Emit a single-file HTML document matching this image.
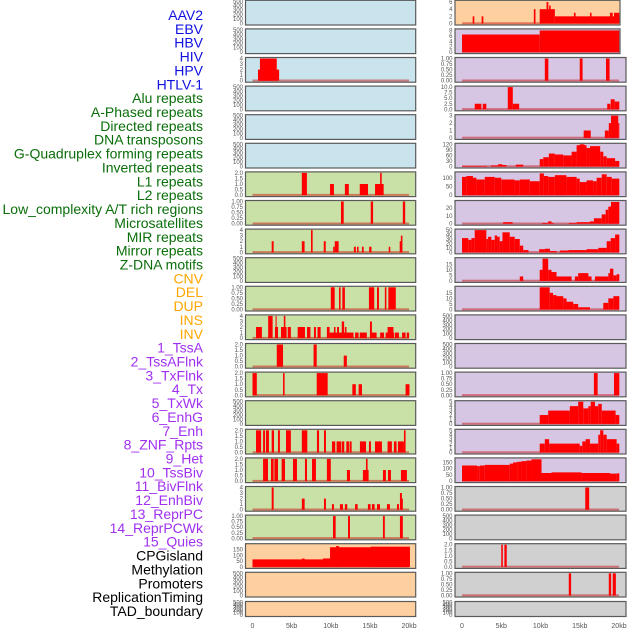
<!DOCTYPE html>
<html><head><meta charset="utf-8"><style>
body{margin:0;background:#fff;width:630px;height:630px;overflow:hidden}
svg{display:block;font-family:"Liberation Sans",sans-serif}
</style></head><body>
<svg id="chart" width="630" height="630" viewBox="0 0 630 630"></svg>
<script>
const trackLabels=["AAV2","EBV","HBV","HIV","HPV","HTLV-1","Alu repeats","A-Phased repeats","Directed repeats","DNA transposons","G-Quadruplex forming repeats","Inverted repeats","L1 repeats","L2 repeats","Low_complexity A/T rich regions","Microsatellites","MIR repeats","Mirror repeats","Z-DNA motifs","CNV","DEL","DUP","INS","INV","1_TssA","2_TssAFlnk","3_TxFlnk","4_Tx","5_TxWk","6_EnhG","7_Enh","8_ZNF_Rpts","9_Het","10_TssBiv","11_BivFlnk","12_EnhBiv","13_ReprPC","14_ReprPCWk","15_Quies","CPGisland","Methylation","Promoters","ReplicationTiming","TAD_boundary"];
const labelGroups=[6,13,5,15,5];
const groupColors=["#1010e0","#0a6e0a","#ffa500","#a030f0","#000000"];
const xTicks=[0,5,10,15,20];
const xTickLabels=["0","5kb","10kb","15kb","20kb"];
const T500=["0","100","200","300","400","500"],V500=[0,100,200,300,400,500];
const T1=["0.00","0.25","0.50","0.75","1.00"],V1=[0,0.25,0.5,0.75,1];
const T2=["0.0","0.5","1.0","1.5","2.0"],V2=[0,0.5,1,1.5,2];
const T4=["0","1","2","3","4"],V4=[0,1,2,3,4];
const leftBars=[
[],[],
[[0.7,3.4,2],[0.95,3.1,4]],
[],[],[],
[[6.3,6.95,2],[9.9,10.4,1],[11.8,12.3,1],[13.7,14.75,1],[15.65,16.75,1],[16.3,16.5,2]],
[[11.3,11.65,1],[15.1,15.4,1],[19.2,19.5,1]],
[[2.45,2.7,2],[6.3,6.65,2],[7.47,7.68,4],[9.1,9.35,2],[10.3,10.5,1],[10.5,11.0,2],[12.95,13.2,1],[13.35,13.55,1],[13.98,14.2,1],[14.9,15.2,1],[17.4,17.6,1],[18.8,19.05,2],[18.95,19.15,3]],
[],
[[10.0,10.5,1],[11.05,11.25,1],[11.47,11.8,1],[14.87,15.55,1],[15.9,16.15,1],[16.9,17.1,1],[17.35,18.3,1]],
[[0.45,1.2,2],[2.0,2.57,4],[2.87,3.26,2],[2.95,3.08,4],[3.64,4.36,2],[4.0,4.2,4],[4.5,4.9,2],[5.77,6.7,2],[6.96,7.4,2],[7.85,8.1,2],[8.3,8.7,2],[9.5,9.85,2],[9.85,12.9,1],[10.4,10.6,2],[10.8,11.05,2],[11.4,11.7,3],[11.8,12.0,2],[13.1,13.55,1],[13.7,14.6,1],[15.0,15.85,1],[15.0,15.25,3],[16.3,16.8,1],[17.0,18.1,1],[17.25,18.0,2],[18.2,18.7,1],[19.1,19.55,1],[19.7,20.0,1]],
[[3.1,3.9,2],[7.8,8.2,2],[11.65,12.05,1]],
[[0,0.55,2],[3.9,4.1,2],[8.2,9.6,2],[12.75,13.2,1],[13.55,13.98,1],[19.55,20.05,1]],
[],
[[0.45,1.1,2],[1.35,1.6,2],[1.72,2.1,2],[2.45,2.75,2],[3.25,3.5,2],[4.28,4.9,2],[6.3,7.0,2],[8.23,8.5,2],[9.13,9.38,2],[19.34,19.55,2],[10.15,10.57,1],[10.74,11.3,1],[11.38,11.72,1],[11.98,12.32,1],[12.4,12.66,1],[13.72,14.5,1],[14.87,15.13,1],[15.64,16.53,1],[17.25,17.8,1],[18.06,18.4,1],[18.57,19.34,1]],
[[1.35,1.98,2],[2.36,2.7,2],[2.79,3.26,2],[3.72,4.15,2],[5.17,5.68,2],[6.7,6.96,2],[7.6,8.1,2],[9.5,10.0,2],[14.49,14.7,2],[12.06,12.45,1],[14.1,14.83,1],[16.66,17.04,1],[17.3,17.68,1],[18.96,19.72,1]],
[[2.45,2.7,4],[6.3,6.66,2],[9.13,9.38,2],[10.15,10.4,1],[11.17,11.55,1],[11.8,12.1,1],[13.1,13.43,1],[14.74,15.08,1],[15.25,15.6,1],[15.9,16.28,1],[17.17,17.55,1],[18.45,18.7,1],[18.83,19.08,3],[18.96,19.2,2]],
[[10.28,10.62,1],[12.2,12.45,1],[16.66,16.9,1],[18.83,19.2,1]],
[[0,9.9,65],[6.3,6.66,72],[9.0,9.9,73],[9.9,20.1,170],[10.66,11.04,180],[15.1,20.1,175]],
[],[]
];
const rightBars=[
[[1.36,1.57,2],[2.5,2.72,2],[9.15,9.36,4],[9.9,11.83,4],[10.77,11.0,6],[11.1,11.3,5],[11.83,20.04,2],[14.25,14.47,3],[16.3,16.5,3],[18.85,19.2,3],[19.36,20.04,3]],
[[0,9.9,6.5],[9.9,20.04,8]],
[[10.55,11.0,1],[15.0,15.36,1],[18.34,18.8,1]],
[[1.62,2.47,2.5],[2.64,3.1,2.5],[5.83,6.47,10],[6.47,7.28,2.5],[18.5,18.9,2.5],[18.94,19.45,4.5],[19.45,20.04,3.5]],
[[15.5,16.4,1],[18.2,18.7,1],[18.7,18.98,2],[18.98,19.9,3],[19.9,20.04,2]],
[[0,3.15,3],[3.7,4.6,6],[4.6,5.15,12],[5.15,5.66,8],[6.85,7.8,10],[9.9,10.35,40],[10.35,11.06,50],[11.06,11.83,70],[11.83,12.9,65],[12.9,13.96,60],[13.96,14.6,80],[14.6,15.87,115],[15.0,15.6,120],[15.87,16.3,100],[16.3,17.6,110],[17.6,18.0,80],[18.0,18.43,55],[18.43,19.5,45],[19.5,20.04,30]],
[[0,0.55,105],[0.55,1.4,110],[1.4,1.83,100],[1.83,2.9,90],[2.9,4.17,105],[4.17,5.0,100],[5.0,6.7,90],[6.7,7.36,85],[7.36,8.64,90],[8.64,9.9,80],[9.9,10.43,125],[10.43,10.98,110],[10.98,11.83,105],[11.83,13.3,115],[13.3,14.6,105],[14.6,15.0,95],[15.0,15.87,75],[15.87,16.7,85],[16.7,17.15,80],[17.15,17.8,100],[17.8,18.43,120],[18.43,19.07,105],[19.07,20.04,95]],
[[5.23,6.45,2],[10.2,10.98,1],[10.98,11.4,3],[11.4,11.7,1],[13.6,14.6,1],[14.6,16.3,2],[16.3,16.8,3],[16.8,17.8,7],[17.8,18.3,12],[18.3,18.64,18],[18.64,18.98,22],[18.98,20.04,28]],
[[0,0.8,32],[0.8,1.2,28],[1.2,1.62,32],[1.62,3.1,50],[3.1,3.32,30],[3.32,3.74,35],[3.74,4.17,28],[4.17,4.47,38],[4.47,4.8,35],[4.8,5.15,25],[5.15,6.08,45],[6.08,6.72,35],[6.72,7.36,30],[7.36,7.8,15],[7.8,8.47,5],[9.83,10.55,7],[10.55,11.2,8],[11.2,12.04,3],[12.47,13.53,4],[13.53,15.87,5],[15.87,17.36,7],[17.36,18.43,10],[18.43,18.94,25],[18.94,19.5,32],[19.5,20.04,40]],
[[7.36,7.8,4],[9.9,10.26,10],[10.26,10.98,20],[10.98,11.4,10],[11.4,12.04,8],[12.04,13.96,4],[14.38,14.8,4],[14.8,16.1,7],[16.1,16.5,4],[16.94,18.64,4],[18.64,18.85,7],[18.85,19.28,11],[19.28,19.7,5],[19.7,20.04,6]],
[[9.9,11.17,20],[11.17,11.6,15],[11.6,12.04,13],[12.04,12.9,12],[12.9,13.32,10],[13.32,14.17,7],[14.17,14.8,5],[14.8,16.3,2],[18.0,18.64,6],[18.64,19.28,10],[19.28,20.04,12]],
[],[],
[[16.8,17.28,1],[19.36,20.04,1]],
[[9.9,10.98,2],[10.98,13.74,3],[13.74,14.8,4],[14.8,15.45,5],[15.45,16.1,3.5],[16.1,16.4,4],[16.4,16.94,5],[16.94,17.36,4],[17.36,17.8,4.5],[17.8,19.57,3],[19.57,20.04,2]],
[[9.9,10.55,2],[10.55,11.1,3],[11.1,15.0,2],[15.0,15.32,1.5],[15.32,15.74,2.5],[15.74,16.3,3],[16.3,17.36,2],[17.36,17.6,4],[17.6,18.0,5],[18.0,18.43,4],[18.43,19.7,3],[19.7,20.04,2]],
[[0,1.92,125],[1.92,2.26,120],[2.26,2.9,125],[2.9,6.08,130],[6.08,6.5,140],[6.5,7.02,150],[7.02,7.57,155],[7.57,8.2,160],[8.2,8.85,165],[8.85,10.13,175],[10.13,11.4,65],[11.4,15.23,70],[15.23,18.85,65],[18.85,19.7,60],[19.7,20.04,62]],
[[15.7,16.2,1]],
[],
[[5.0,5.2,2],[5.4,5.7,2]],
[[13.6,13.9,1],[18.7,19.0,1],[19.2,19.6,1]],
[]
];
const leftMax=[500,500,4,500,500,500,2,1,4,500,1,4,2,2,500,2,2,4,1,192,500,500];
const rightMax=[6.2,8.2,1,10,3,120,128,28.6,50,20,20,500,500,1,5,5,178,1,500,2,1,500];
const leftTicks=[[V500,T500],[V500,T500],[V4,T4],[V500,T500],[V500,T500],[V500,T500],[V2,T2],[V1,T1],[V4,T4],[V500,T500],[V1,T1],[V4,T4],[V2,T2],[V2,T2],[V500,T500],[V2,T2],[V2,T2],[V4,T4],[V1,T1],[[0,50,100,150],["0","50","100","150"]],[V500,T500],[V500,T500]];
const rightTicks=[[[0,2,4,6],["0","2","4","6"]],[[0,2,4,6,8],["0","2","4","6","8"]],[V1,T1],[[0,2.5,5,7.5,10],["0.0","2.5","5.0","7.5","10.0"]],[[0,1,2,3],["0","1","2","3"]],[[0,30,60,90,120],["0","30","60","90","120"]],[[0,50,100],["0","50","100"]],[[0,10,20],["0","10","20"]],[[0,10,20,30,40,50],["0","10","20","30","40","50"]],[[0,5,10,15],["0","5","10","15"]],[[0,5,10,15],["0","5","10","15"]],[V500,T500],[V500,T500],[V1,T1],[[0,1,2,3,4,5],["0","1","2","3","4","5"]],[[0,1,2,3,4,5],["0","1","2","3","4","5"]],[[0,50,100,150],["0","50","100","150"]],[V1,T1],[V500,T500],[V2,T2],[V1,T1],[V500,T500]];
const BG={b:"#c9e4ec",g:"#c9e1a6",o:"#ffd09f",p:"#d6c6e3",k:"#d0d0d0"};
const leftBg="bbbbbbgggggggggggggooo";
const rightBg="ooppppppppppppppppkkkkk";

const NS="http://www.w3.org/2000/svg";
const svg=document.getElementById('chart');
function mk(tag,attrs,parent){const e=document.createElementNS(NS,tag);for(const k in attrs)e.setAttribute(k,attrs[k]);(parent||svg).appendChild(e);return e;}

let li=0;
labelGroups.forEach((n,g)=>{for(let k=0;k<n;k++){
  const t=mk('text',{x:203,y:15+13.86*li+5,'text-anchor':'end','font-size':14,fill:groupColors[g]});
  t.textContent=trackLabels[li];
  
  
  li++;}});

function rowGeom(i){ if(i===21) return [601.5,15]; return [0.3+28.6*i,24.7]; }

function drawPanel(side,i,bars,ymax,ticks,bg){
  const [top,h]=rowGeom(i);
  const L=side==='left'?245.5:455;
  const R=side==='left'?415.7:(i<2?620:626);
  const x0=side==='left'?252.5:462, kx=side==='left'?7.83:7.85;
  const xs=kb=>x0+kb*kx;
  const yZero=top+h-1.5, yTop=top+1;
  const ys=v=>yZero-(v/ymax)*(yZero-yTop);
  const g=mk('g',{});
  
  
  mk('rect',{x:L,y:top,width:R-L,height:h,fill:BG[bg]},g);
  if(bars.length){
    const bl=mk('rect',{x:xs(0),y:yZero-1.2,width:xs(20)-xs(0),height:2,fill:'rgba(200,0,0,0.45)'},g);
    
    
  }
  bars.forEach(b=>{
    const r=mk('rect',{x:xs(b[0]),y:ys(b[2]),width:Math.max(0.8,xs(b[1])-xs(b[0])),height:yZero-ys(b[2]),fill:'#ff0000'},g);
    
    
  });
  mk('rect',{x:L,y:top,width:R-L,height:h,fill:'none',stroke:'#5a5a5a','stroke-width':1.2},g);
  const tx=side==='left'?243:452.5;
  ticks[0].forEach((v,k)=>{
    const t=mk('text',{x:tx,y:ys(v)+2,'text-anchor':'end','font-size':6,fill:'#555'},g);
    t.textContent=ticks[1][k];
    
    
  });
}
for(let i=0;i<22;i++){
  drawPanel('left',i,leftBars[i],leftMax[i],leftTicks[i],leftBg[i]);
  drawPanel('right',i,rightBars[i],rightMax[i],rightTicks[i],rightBg[i+1]||'k');
}
[[252.5,7.83],[462,7.85]].forEach(([x0,k],s)=>{
  xTicks.forEach((v,j)=>{
    const t=mk('text',{x:x0+v*k,y:628,'text-anchor':'middle','font-size':7,fill:'#555'});
    t.textContent=xTickLabels[j];
    
    
  });
});
</script>
</body></html>
